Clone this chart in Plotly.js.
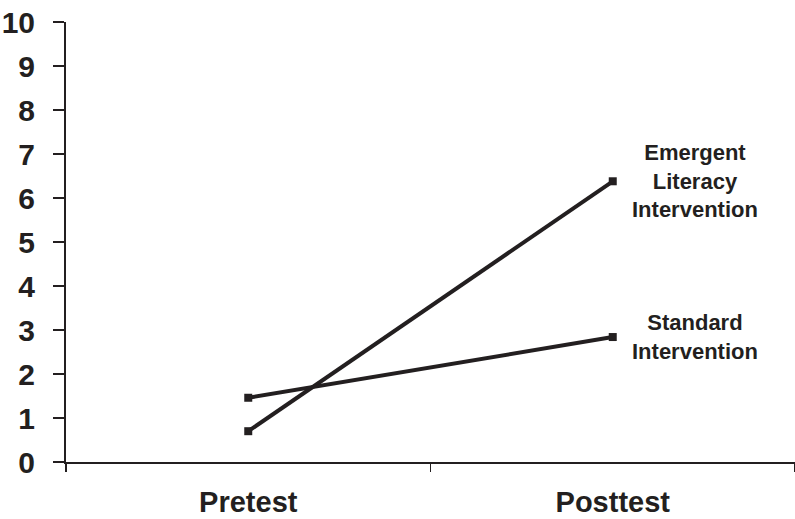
<!DOCTYPE html>
<html>
<head>
<meta charset="utf-8">
<script src="https://cdn.plot.ly/plotly-3.0.1.min.js"></script>
<style>html,body{margin:0;padding:0;background:#fff;}#chart{width:795px;height:519px;}</style>
</head>
<body>
<div id="chart"></div>
<script>
const categories = ['Pretest', 'Posttest'];
const seriesNames = ['Emergent<br>Literacy<br>Intervention', 'Standard<br>Intervention'];
const emergentValues = [0.7, 6.38];
const standardValues = [1.46, 2.84];
const yTickValues = [0, 1, 2, 3, 4, 5, 6, 7, 8, 9, 10];

const ink = '#231f20';
const font = 'Liberation Sans, Arial, Helvetica, sans-serif';

function lineTrace(vals, name) {
  return {
    type: 'scatter', mode: 'lines+markers', x: categories, y: vals, name: name,
    line: {color: ink, width: 4},
    marker: {symbol: 'square', size: 8, color: ink},
    hoverinfo: 'skip', cliponaxis: false
  };
}

const traces = [lineTrace(emergentValues, seriesNames[0]), lineTrace(standardValues, seriesNames[1])];

const annotations = [
  {x: categories[1], y: emergentValues[1], text: seriesNames[0]},
  {x: categories[1], y: standardValues[1], text: seriesNames[1]}
].map(a => Object.assign(a, {
  xref: 'x', yref: 'y', showarrow: false, xanchor: 'center', yanchor: 'middle',
  xshift: 82, font: {family: font, size: 22, color: ink, weight: 700}
}));

const layout = {
  width: 795, height: 519,
  margin: {l: 66, r: 0, t: 22, b: 57, pad: 0},
  paper_bgcolor: '#fff', plot_bgcolor: '#fff',
  showlegend: false,
  xaxis: {
    type: 'category', range: [-0.5, 1.5], automargin: false,
    showgrid: false, zeroline: false,
    showline: true, linecolor: ink, linewidth: 2,
    ticks: 'outside', tickson: 'boundaries', ticklen: 8, tickwidth: 1.5, tickcolor: ink,
    tickfont: {family: font, size: 29, color: ink, weight: 700},
    ticklabelstandoff: 13
  },
  yaxis: {
    range: [0, 10], automargin: false,
    tickvals: yTickValues, ticktext: yTickValues.map(String),
    showgrid: false, zeroline: false,
    showline: true, linecolor: ink, linewidth: 2,
    ticks: 'outside', ticklen: 11, tickwidth: 1.5, tickcolor: ink,
    tickfont: {family: font, size: 30, color: ink, weight: 700},
    ticklabelstandoff: 12
  },
  annotations: annotations
};

Plotly.newPlot('chart', traces, layout, {displayModeBar: false, staticPlot: true});
</script>
</body>
</html>
